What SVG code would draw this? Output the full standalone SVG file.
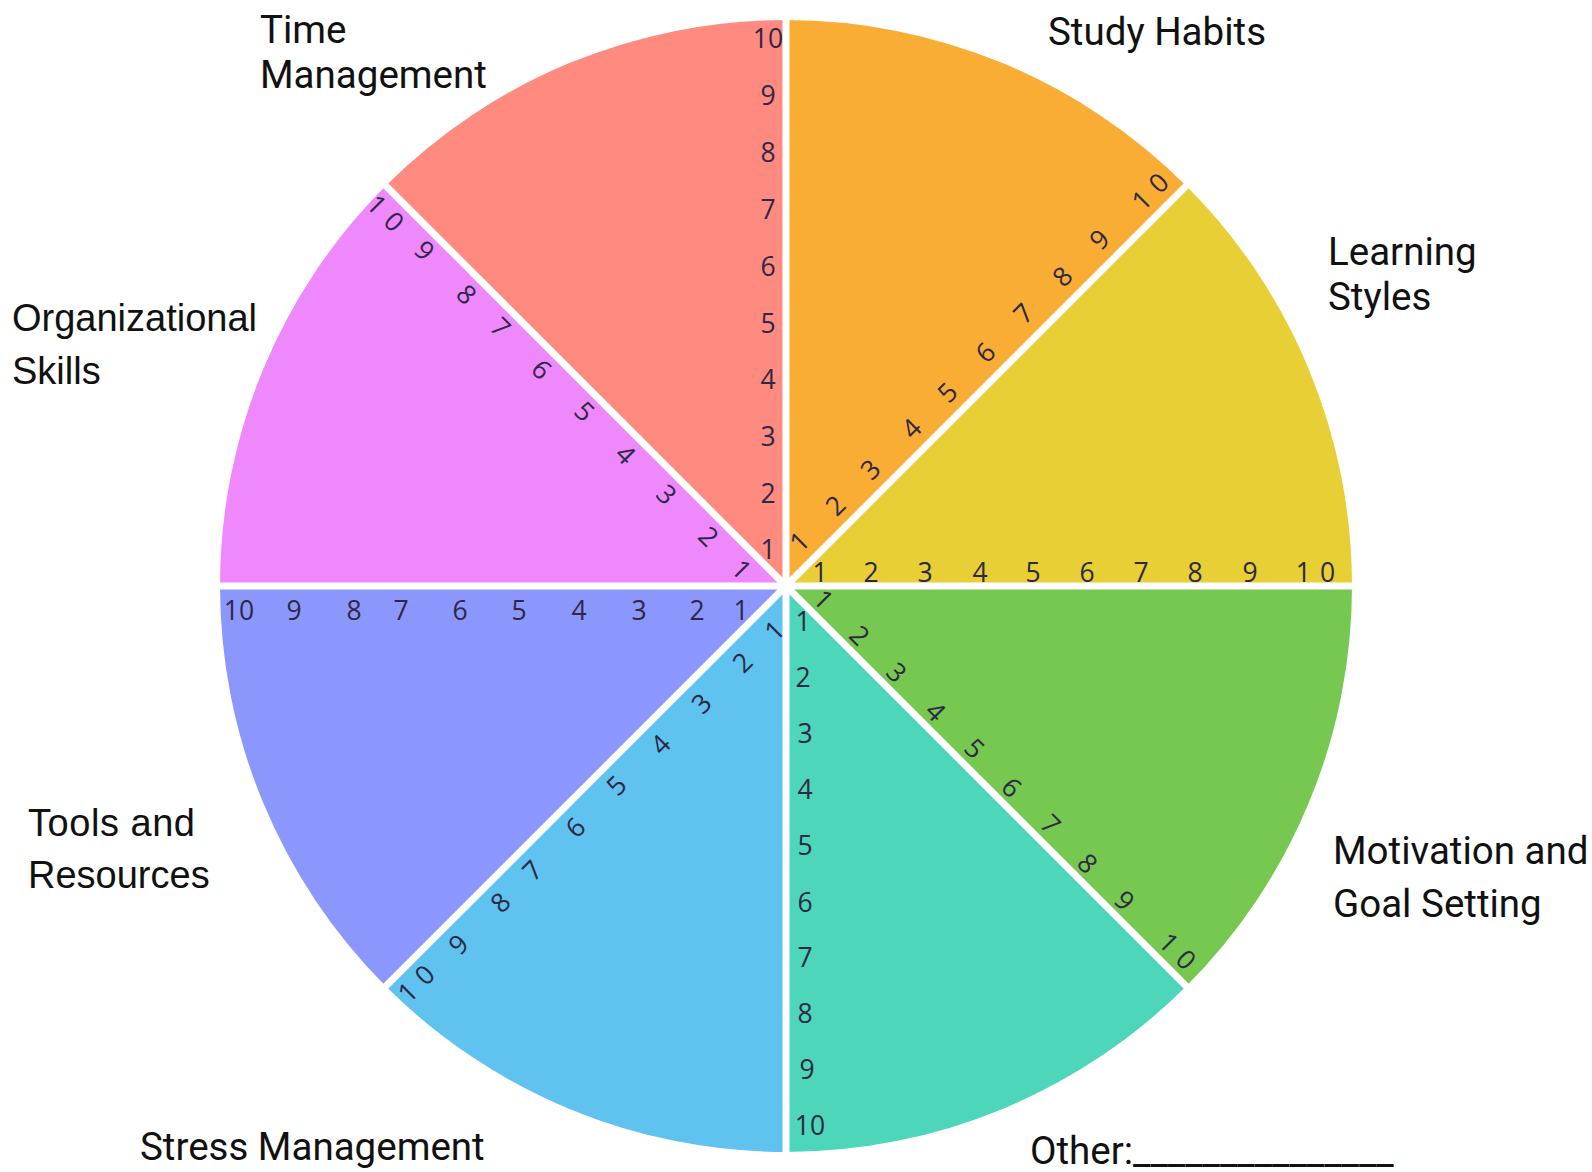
<svg xmlns="http://www.w3.org/2000/svg" width="1592" height="1172" viewBox="0 0 1592 1172">
<style>
.lbl{font-family:Roboto,"Liberation Sans",sans-serif;font-size:38.5px;fill:#111}
.lbl2{font-family:"Liberation Sans",Arial,sans-serif;font-size:38px;fill:#111}
.n{font-family:"Open Sans","DejaVu Sans",sans-serif;font-size:26.5px;font-weight:500;fill:#2d2844;text-anchor:middle;dominant-baseline:central}
.sp{letter-spacing:9px}
.gap{stroke:#fff;stroke-width:7;fill:none}
</style>
<rect width="1592" height="1172" fill="#fff"/>
<g id="sectors">
<g id="time-management"><path d="M786 586 L786 20 A566 566 0 0 0 385.8 185.8 Z" fill="#ff8a7f"/></g>
<g id="study-habits"><path d="M786 586 L786 20 A566 566 0 0 1 1186.2 185.8 Z" fill="#f9ad34"/></g>
<g id="learning-styles"><path d="M786 586 L1186.2 185.8 A566 566 0 0 1 1352 586 Z" fill="#e8cf36"/></g>
<g id="motivation"><path d="M786 586 L1352 586 A566 566 0 0 1 1186.2 986.2 Z" fill="#76c850"/></g>
<g id="other"><path d="M786 586 L1186.2 986.2 A566 566 0 0 1 786 1152 Z" fill="#4ed6bb"/></g>
<g id="stress-management"><path d="M786 586 L786 1152 A566 566 0 0 1 385.8 986.2 Z" fill="#5fc2ef"/></g>
<g id="tools-resources"><path d="M786 586 L385.8 986.2 A566 566 0 0 1 220 586 Z" fill="#8c97fe"/></g>
<g id="organizational-skills"><path d="M786 586 L220 586 A566 566 0 0 1 385.8 185.8 Z" fill="#ee88fc"/></g>
</g>
<g id="connectors">
<line class="gap" x1="786" y1="10" x2="786" y2="1162"/>
<line class="gap" x1="210" y1="586" x2="1362" y2="586"/>
<line class="gap" x1="378.7" y1="178.7" x2="1193.3" y2="993.3"/>
<line class="gap" x1="1193.3" y1="178.7" x2="378.7" y2="993.3"/>
<circle cx="786" cy="586" r="8" fill="#fff"/>
</g>
<g id="labels">
<text class="lbl" x="260" y="43">Time</text>
<text class="lbl" x="260" y="88">Management</text>
<text class="lbl" x="1048" y="45">Study Habits</text>
<text class="lbl" x="1328" y="265">Learning</text>
<text class="lbl" x="1328" y="310">Styles</text>
<text class="lbl2" x="12" y="331">Organizational</text>
<text class="lbl2" x="12" y="384">Skills</text>
<text class="lbl2" x="28" y="836" textLength="167">Tools and</text>
<text class="lbl2" x="28" y="888">Resources</text>
<text class="lbl" x="140" y="1160">Stress Management</text>
<text class="lbl" x="1333" y="864">Motivation and</text>
<text class="lbl" x="1333" y="917">Goal Setting</text>
<text class="lbl" x="1030" y="1164">Other:_______________</text>
</g>
<g id="scale-time">
<text class="n" x="768" y="38">10</text>
<text class="n" x="768" y="95">9</text>
<text class="n" x="768" y="152">8</text>
<text class="n" x="768" y="209">7</text>
<text class="n" x="768" y="266">6</text>
<text class="n" x="768" y="323">5</text>
<text class="n" x="768" y="379">4</text>
<text class="n" x="768" y="436">3</text>
<text class="n" x="768" y="493">2</text>
<text class="n" x="768" y="549">1</text>
</g>
<g id="scale-other">
<text class="n" x="803" y="621">1</text>
<text class="n" x="803" y="677">2</text>
<text class="n" x="805" y="733">3</text>
<text class="n" x="805" y="789">4</text>
<text class="n" x="805" y="845">5</text>
<text class="n" x="805" y="902">6</text>
<text class="n" x="805" y="957">7</text>
<text class="n" x="805" y="1013">8</text>
<text class="n" x="807" y="1069">9</text>
<text class="n" x="810" y="1125">10</text>
</g>
<g id="scale-learning">
<text class="n" x="820" y="572">1</text>
<text class="n" x="871" y="572">2</text>
<text class="n" x="925" y="572">3</text>
<text class="n" x="980" y="572">4</text>
<text class="n" x="1033" y="572">5</text>
<text class="n" x="1087" y="572">6</text>
<text class="n" x="1141" y="572">7</text>
<text class="n" x="1195" y="572">8</text>
<text class="n" x="1250" y="572">9</text>
<text class="n sp" x="1320" y="572">10</text>
</g>
<g id="scale-tools">
<text class="n" x="741" y="610">1</text>
<text class="n" x="697" y="610">2</text>
<text class="n" x="639" y="610">3</text>
<text class="n" x="579" y="610">4</text>
<text class="n" x="519" y="610">5</text>
<text class="n" x="460" y="610">6</text>
<text class="n" x="401" y="610">7</text>
<text class="n" x="354" y="610">8</text>
<text class="n" x="294" y="610">9</text>
<text class="n" x="239" y="610">10</text>
</g>
<g id="scale-study">
<text class="n" transform="translate(799 541) rotate(-45)">1</text>
<text class="n" transform="translate(835 505) rotate(-45)">2</text>
<text class="n" transform="translate(870 469) rotate(-45)">3</text>
<text class="n" transform="translate(911 428) rotate(-45)">4</text>
<text class="n" transform="translate(947 392) rotate(-45)">5</text>
<text class="n" transform="translate(985 352) rotate(-45)">6</text>
<text class="n" transform="translate(1023 313) rotate(-45)">7</text>
<text class="n" transform="translate(1062 276) rotate(-45)">8</text>
<text class="n" transform="translate(1099 239) rotate(-45)">9</text>
<text class="n sp" transform="translate(1153 188) rotate(-45)">10</text>
</g>
<g id="scale-motivation">
<text class="n" transform="translate(824 599) rotate(45)">1</text>
<text class="n" transform="translate(860 635) rotate(45)">2</text>
<text class="n" transform="translate(897 672) rotate(45)">3</text>
<text class="n" transform="translate(936 711) rotate(45)">4</text>
<text class="n" transform="translate(975 748) rotate(45)">5</text>
<text class="n" transform="translate(1012 787) rotate(45)">6</text>
<text class="n" transform="translate(1051 824) rotate(45)">7</text>
<text class="n" transform="translate(1088 863) rotate(45)">8</text>
<text class="n" transform="translate(1125 900) rotate(45)">9</text>
<text class="n sp" transform="translate(1181 954) rotate(45)">10</text>
</g>
<g id="scale-stress">
<text class="n" transform="translate(774 630) rotate(-45)">1</text>
<text class="n" transform="translate(742 662) rotate(-45)">2</text>
<text class="n" transform="translate(701 703) rotate(-45)">3</text>
<text class="n" transform="translate(660 744) rotate(-45)">4</text>
<text class="n" transform="translate(616 785) rotate(-45)">5</text>
<text class="n" transform="translate(575 827) rotate(-45)">6</text>
<text class="n" transform="translate(532 870) rotate(-45)">7</text>
<text class="n" transform="translate(500 902) rotate(-45)">8</text>
<text class="n" transform="translate(458 944) rotate(-45)">9</text>
<text class="n sp" transform="translate(419 980) rotate(-45)">10</text>
</g>
<g id="scale-organizational">
<text class="n" transform="translate(742 569) rotate(45)">1</text>
<text class="n" transform="translate(709 536) rotate(45)">2</text>
<text class="n" transform="translate(667 494) rotate(45)">3</text>
<text class="n" transform="translate(626 454) rotate(45)">4</text>
<text class="n" transform="translate(585 411) rotate(45)">5</text>
<text class="n" transform="translate(542 369) rotate(45)">6</text>
<text class="n" transform="translate(501 327) rotate(45)">7</text>
<text class="n" transform="translate(467 294) rotate(45)">8</text>
<text class="n" transform="translate(425 250) rotate(45)">9</text>
<text class="n sp" transform="translate(389 216) rotate(45)">10</text>
</g>
</svg>
